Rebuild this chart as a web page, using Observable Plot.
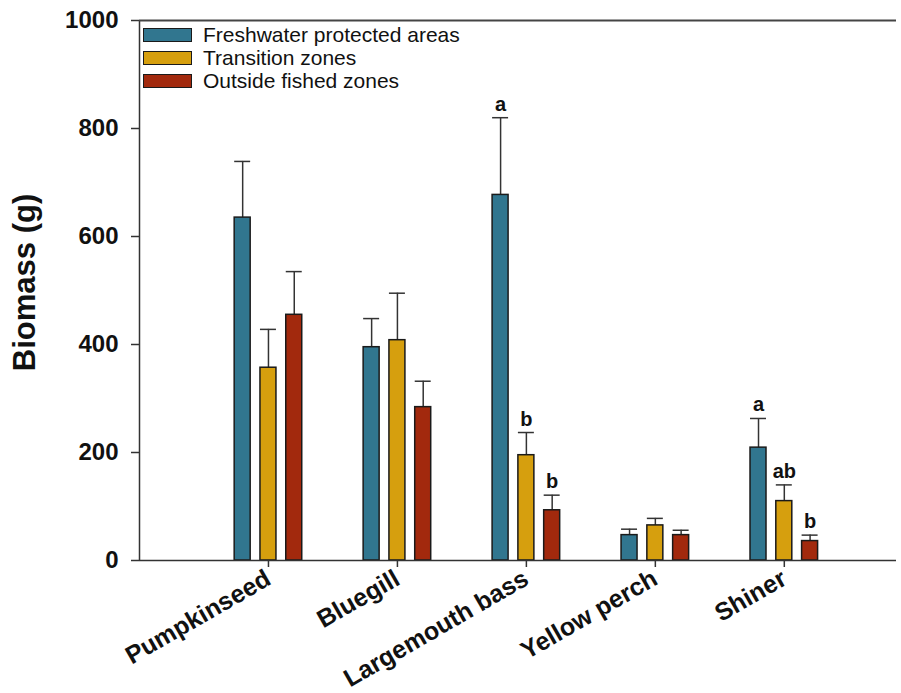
<!DOCTYPE html>
<html>
<head>
<meta charset="utf-8">
<script src="https://cdn.jsdelivr.net/npm/d3@7"></script>
<script src="https://cdn.jsdelivr.net/npm/@observablehq/plot@0.6"></script>
<style>
  body { margin: 0; background: #fff; }
  #wrap { position: relative; width: 901px; height: 693px; font-family: "Liberation Sans", Arial, sans-serif; }
  #legend { position: absolute; left: 143px; top: 23px; }
  .item { display: flex; align-items: center; height: 23px; }
  .sw { width: 47px; height: 12px; border: 1.5px solid #1a1a1a; margin-right: 11px; }
  .lab { font-size: 21px; color: #111; }
</style>
</head>
<body>
<div id="wrap"><div id="legend"></div></div>
<script>
const categories = ["Pumpkinseed", "Bluegill", "Largemouth bass", "Yellow perch", "Shiner"];
const seriesNames = ["Freshwater protected areas", "Transition zones", "Outside fished zones"];
const seriesColors = ["#31768f", "#d69f0e", "#a2290d"];
const protectedVals = [635, 395, 677, 47, 209];
const protectedErr  = [739, 448, 820, 58, 263];
const transitionVals = [357, 408, 195, 65, 110];
const transitionErr  = [428, 495, 237, 78, 140];
const outsideVals = [455, 284, 93, 47, 36];
const outsideErr  = [535, 332, 121, 56, 47];
const protectedLetters = ["", "", "a", "", "a"];
const transitionLetters = ["", "", "b", "", "ab"];
const outsideLetters = ["", "", "b", "", "b"];
const yTicks = [0, 200, 400, 600, 800, 1000];

const offsets = [-0.2, 0, 0.2];
const halfW = 0.062;
const vals = [protectedVals, transitionVals, outsideVals];
const errs = [protectedErr, transitionErr, outsideErr];
const letters = [protectedLetters, transitionLetters, outsideLetters];

const data = [];
seriesNames.forEach((s, si) => {
  categories.forEach((c, ci) => {
    const xc = ci + 1 + offsets[si];
    data.push({series: s, cat: c, xc, x1: xc - halfW, x2: xc + halfW,
      value: vals[si][ci], err: errs[si][ci], letter: letters[si][ci]});
  });
});

const font = "Liberation Sans, Arial, sans-serif";
const chart = Plot.plot({
  width: 901,
  height: 693,
  marginLeft: 139,
  marginRight: 5,
  marginTop: 20,
  marginBottom: 133,
  style: {fontFamily: font, background: "white", color: "#111"},
  x: {type: "linear", domain: [0, 5.87]},
  y: {domain: [0, 1000]},
  color: {domain: seriesNames, range: seriesColors},
  marks: [
    Plot.ruleX(data, {x: "xc", y1: "value", y2: "err", stroke: "#333", strokeWidth: 1.5}),
    Plot.ruleY(data, {y: "err", x1: d => d.x1, x2: d => d.x2, stroke: "#333", strokeWidth: 1.5}),
    Plot.rectY(data, {x1: "x1", x2: "x2", y1: 0, y2: "value", fill: "series", stroke: "#1a1a1a", strokeWidth: 1.5}),
    Plot.text(data.filter(d => d.letter), {x: "xc", y: "err", text: "letter", lineAnchor: "bottom", dy: -7,
      fontSize: 20, fontWeight: "bold", fill: "#111"}),
    Plot.ruleX([0], {stroke: "#333", strokeWidth: 1.5}),
    Plot.ruleY([0], {stroke: "#333", strokeWidth: 1.5}),
    Plot.ruleY([1000], {stroke: "#444", strokeWidth: 2, x1: 0, x2: 5.87}),
    Plot.axisY({ticks: yTicks, tickFormat: d => String(d), tickSize: 8, tickPadding: 13, label: null,
      fontSize: 24, fontWeight: "bold", stroke: "#333", strokeWidth: 1.5}),
    Plot.axisX({ticks: [1, 2, 3, 4, 5], tickFormat: d => categories[d - 1], tickSize: 7, tickRotate: -30,
      tickPadding: 9, label: null, fontSize: 25, fontWeight: "bold", stroke: "#333", strokeWidth: 1.5}),
    Plot.text(["Biomass (g)"], {frameAnchor: "left", textAnchor: "middle", rotate: -90, dx: -114, dy: -8,
      fontSize: 31, fontWeight: "bold", fill: "#111"})
  ]
});
const wrap = document.getElementById("wrap");
wrap.insertBefore(chart, wrap.firstChild);

const legend = document.getElementById("legend");
seriesNames.forEach((s, i) => {
  const item = document.createElement("div");
  item.className = "item";
  const sw = document.createElement("div");
  sw.className = "sw";
  sw.style.background = seriesColors[i];
  const lab = document.createElement("span");
  lab.className = "lab";
  lab.textContent = s;
  item.appendChild(sw);
  item.appendChild(lab);
  legend.appendChild(item);
});
</script>
</body>
</html>
